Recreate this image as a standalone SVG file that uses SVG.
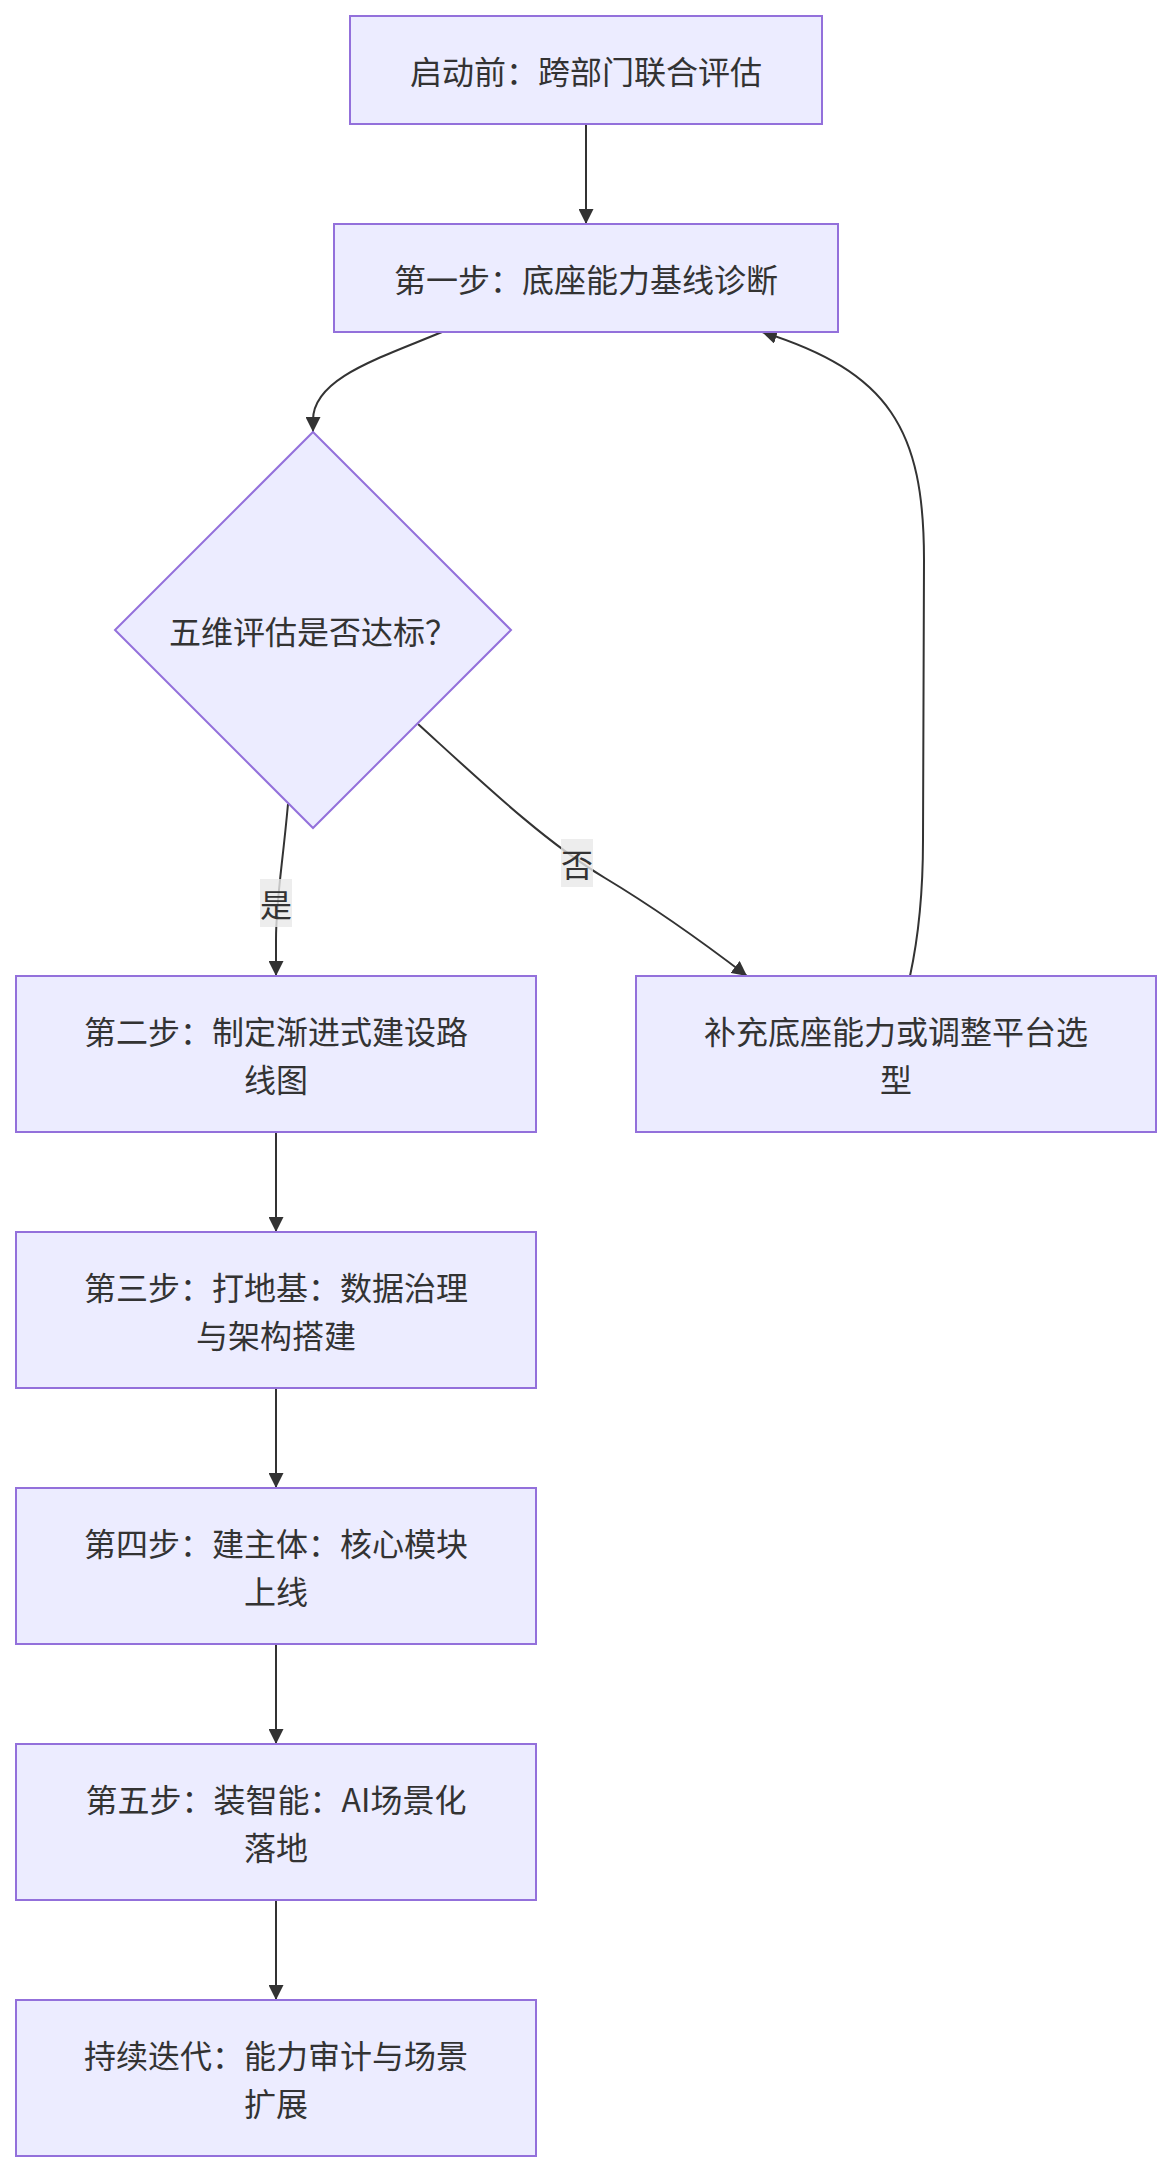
<svg xmlns="http://www.w3.org/2000/svg" width="1172" height="2172" viewBox="0 0 1172 2172">
<style>
.node rect,.node polygon{fill:#ECECFF;stroke:#9370DB;stroke-width:2}
text{font-family:"Noto Sans CJK SC","Noto Sans",sans-serif;font-size:32px;fill:#333333;text-anchor:middle;dominant-baseline:central}
.edge{fill:none;stroke:#333333;stroke-width:2}
.lblbg{fill:#e8e8e8;opacity:0.8}
</style>
<defs>
<marker id="arrow" viewBox="0 0 10 10" refX="10" refY="5" markerUnits="userSpaceOnUse" markerWidth="15" markerHeight="15" orient="auto">
<path d="M0,0 L10,5 L0,10 z" fill="#333333"/>
</marker>
</defs>
<rect width="1172" height="2172" fill="#ffffff"/>
<g id="connectors">
<path class="edge" d="M586,124 L586,224" marker-end="url(#arrow)"/>
<path class="edge" d="M442,332 C380,358 313,378 313,420 L313,432" marker-end="url(#arrow)"/>
<path class="edge" d="M288,804 C282,870 276,900 276,940 L276,976" marker-end="url(#arrow)"/>
<path class="edge" d="M418,724 C485,785 545,842 605,878 C655,908 700,940 747,976" marker-end="url(#arrow)"/>
<path class="edge" d="M910,976 C920,930 923,880 923,840 L924,560 C924,430 890,372 762,332" marker-end="url(#arrow)"/>
<path class="edge" d="M276,1132 L276,1232" marker-end="url(#arrow)"/>
<path class="edge" d="M276,1388 L276,1488" marker-end="url(#arrow)"/>
<path class="edge" d="M276,1644 L276,1744" marker-end="url(#arrow)"/>
<path class="edge" d="M276,1900 L276,2000" marker-end="url(#arrow)"/>
<g id="label-yes">
<rect class="lblbg" x="260" y="879" width="32" height="48"/>
<text x="276" y="903">是</text>
</g>
<g id="label-no">
<rect class="lblbg" x="561" y="839" width="32" height="48"/>
<text x="577" y="863">否</text>
</g>
</g>
<g id="n-start" class="node">
<rect x="350" y="16" width="472" height="108"/>
<text x="586" y="70">启动前：跨部门联合评估</text>
</g>
<g id="n-step1" class="node">
<rect x="334" y="224" width="504" height="108"/>
<text x="586" y="278">第一步：底座能力基线诊断</text>
</g>
<g id="n-decision" class="node">
<polygon points="313,432 511,630 313,828 115,630"/>
<text x="313" y="630">五维评估是否达标？</text>
</g>
<g id="n-step2" class="node">
<rect x="16" y="976" width="520" height="156"/>
<text x="276" y="1030">第二步：制定渐进式建设路</text>
<text x="276" y="1078">线图</text>
</g>
<g id="n-fix" class="node">
<rect x="636" y="976" width="520" height="156"/>
<text x="896" y="1030">补充底座能力或调整平台选</text>
<text x="896" y="1078">型</text>
</g>
<g id="n-step3" class="node">
<rect x="16" y="1232" width="520" height="156"/>
<text x="276" y="1286">第三步：打地基：数据治理</text>
<text x="276" y="1334">与架构搭建</text>
</g>
<g id="n-step4" class="node">
<rect x="16" y="1488" width="520" height="156"/>
<text x="276" y="1542">第四步：建主体：核心模块</text>
<text x="276" y="1590">上线</text>
</g>
<g id="n-step5" class="node">
<rect x="16" y="1744" width="520" height="156"/>
<text x="276" y="1798">第五步：装智能：AI场景化</text>
<text x="276" y="1846">落地</text>
</g>
<g id="n-iterate" class="node">
<rect x="16" y="2000" width="520" height="156"/>
<text x="276" y="2054">持续迭代：能力审计与场景</text>
<text x="276" y="2102">扩展</text>
</g>
</svg>
